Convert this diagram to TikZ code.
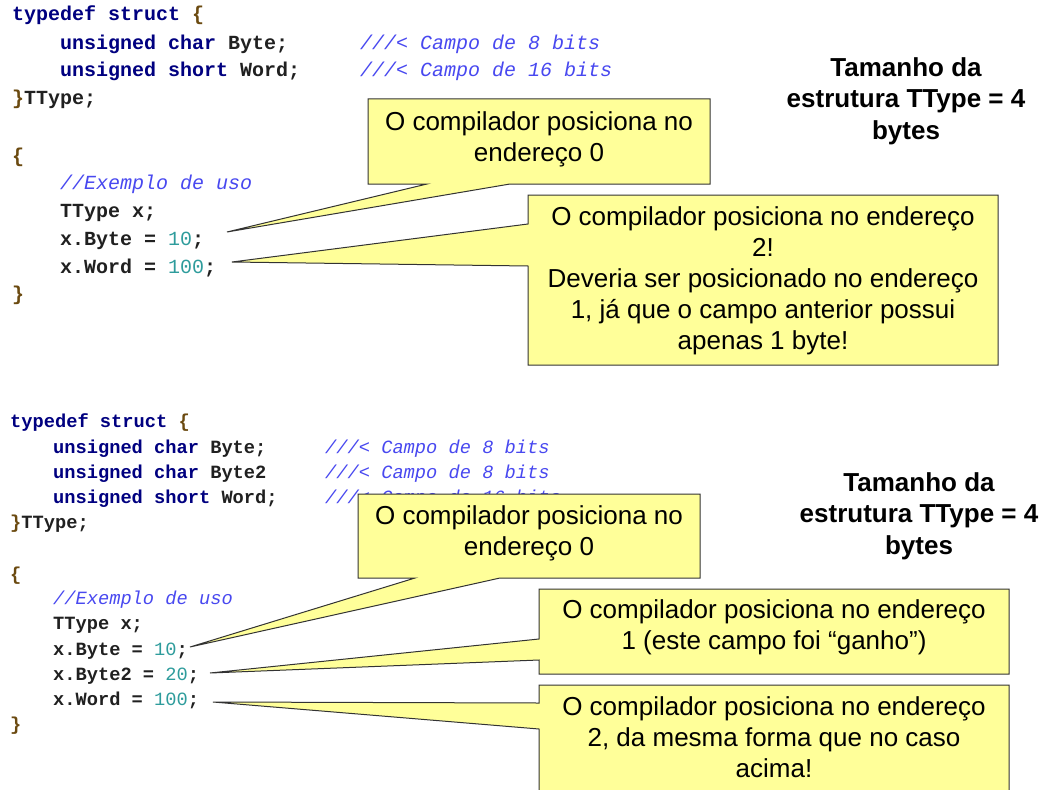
\documentclass[tikz,border=0pt]{standalone}
\usepackage{fontspec}
\setmainfont{Liberation Sans}
\newfontfamily\codefont{Liberation Mono}
\definecolor{kwc}{HTML}{000080}
\definecolor{idc}{HTML}{202020}
\definecolor{brc}{HTML}{6B4A10}
\definecolor{numc}{HTML}{2E9C9C}
\definecolor{cmc}{HTML}{4848F0}
\definecolor{callfill}{HTML}{FFFF99}
\definecolor{callline}{HTML}{333333}
\newcommand\kw[1]{\textcolor{kwc}{#1}}
\newcommand\brk[1]{\textcolor{brc}{#1}}
\newcommand\num[1]{\textcolor{numc}{\mdseries #1}}
\tikzset{
  codeA/.style={anchor=base west, inner sep=0pt, text=idc, font=\codefont\fontsize{20}{24}\selectfont\bfseries},
  cmtA/.style={anchor=base west, inner sep=0pt, text=cmc, font=\codefont\fontsize{20}{24}\selectfont\itshape},
  codeB/.style={anchor=base west, inner sep=0pt, text=idc, font=\codefont\fontsize{18.7}{22}\selectfont\bfseries},
  cmtB/.style={anchor=base west, inner sep=0pt, text=cmc, font=\codefont\fontsize{18.7}{22}\selectfont\itshape},
  callout/.style={fill=callfill, draw=callline, line width=1pt, line join=miter},
  calltext/.style={align=center, inner sep=0pt, font=\fontsize{26}{31}\selectfont},
  sizetext/.style={align=center, inner sep=0pt, font=\fontsize{26}{31.5}\selectfont\bfseries}
}
\begin{document}
\begin{tikzpicture}[x=1pt,y=-1pt]
\clip (0,0) rectangle (1043,789);
\fill[white] (0,0) rectangle (1043,789);

% ---------- top code ----------
\node[codeA] (t1) at (12,21) {\kw{typedef struct} \brk{\{}};
\node[codeA] (t2) at (60,50) {\kw{unsigned char} Byte;};
\node[cmtA] (t2c) at (360,50) {///< Campo de 8 bits};
\node[codeA] (t3) at (60,77) {\kw{unsigned short} Word;};
\node[cmtA] (t3c) at (360,77) {///< Campo de 16 bits};
\node[codeA] (t4) at (12,105) {\brk{\}}TType;};
\node[codeA] (t5) at (12,162) {\brk{\{}};
\node[cmtA] (t6) at (60,189) {//Exemplo de uso};
\node[codeA] (t7) at (60,217) {TType x;};
\node[codeA] (t8) at (60,245) {x.Byte = \num{10};};
\node[codeA] (t9) at (60,273) {x.Word = \num{100};};
\node[codeA] (t10) at (12,300) {\brk{\}}};

% ---------- bottom code ----------
\node[codeB] (b1) at (10,427) {\kw{typedef struct} \brk{\{}};
\node[codeB] (b2) at (53,453) {\kw{unsigned char} Byte;};
\node[cmtB] (b2c) at (325,453) {///< Campo de 8 bits};
\node[codeB] (b3) at (53,478) {\kw{unsigned char} Byte2};
\node[cmtB] (b3c) at (325,478) {///< Campo de 8 bits};
\node[codeB] (b4) at (53,503) {\kw{unsigned short} Word;};
\node[cmtB] (b4c) at (325,503) {///< Campo de 16 bits};
\node[codeB] (b5) at (10,528) {\brk{\}}TType;};
\node[codeB] (b6) at (10,580) {\brk{\{}};
\node[cmtB] (b7) at (53,604) {//Exemplo de uso};
\node[codeB] (b8) at (53,629) {TType x;};
\node[codeB] (b9) at (53,655) {x.Byte = \num{10};};
\node[codeB] (b10) at (53,680) {x.Byte2 = \num{20};};
\node[codeB] (b11) at (53,705) {x.Word = \num{100};};
\node[codeB] (b12) at (10,730) {\brk{\}}};

% ---------- pointer tips ----------
\coordinate (p1) at (227,232);
\coordinate (p2) at (232,262);
\coordinate (p3) at (190,647);
\coordinate (p4) at (210,673);
\coordinate (p5) at (213,702);

% ---------- callouts ----------
\draw[callout] (368,99) -- (710,99) -- (710,184) -- (510,184) -- (p1) -- (427,184) -- (368,184) -- cycle;
\node[calltext] (c1) at (539,139) {O compilador posiciona no\\endereço 0};

\draw[callout] (528,195) -- (998,195) -- (998,365) -- (528,365) -- (528,266) -- (p2) -- (528,224) -- cycle;
\node[calltext] (c2) at (763,281) {O compilador posiciona no endereço\\2!\\Deveria ser posicionado no endereço\\1, já que o campo anterior possui\\apenas 1 byte!};

\draw[callout] (358,494) -- (700,494) -- (700,578) -- (500,578) -- (p3) -- (415,578) -- (358,578) -- cycle;
\node[calltext] (c3) at (529,533) {O compilador posiciona no\\endereço 0};

\draw[callout] (539,589) -- (1009,589) -- (1009,674) -- (539,674) -- (539,660) -- (p4) -- (539,639) -- cycle;
\node[calltext] (c4) at (774,627) {O compilador posiciona no endereço\\1 (este campo foi “ganho”)};

\draw[callout] (539,685) -- (1009,685) -- (1009,810) -- (539,810) -- (539,729) -- (p5) -- (539,703) -- cycle;
\node[calltext] (c5) at (774,737) {O compilador posiciona no endereço\\2, da mesma forma que no caso\\acima!};

% ---------- size notes ----------
\node[sizetext] (s1) at (906,101) {Tamanho da\\estrutura TType = 4\\bytes};
\node[sizetext] (s2) at (919,516) {Tamanho da\\estrutura TType = 4\\bytes};
\end{tikzpicture}
\end{document}
